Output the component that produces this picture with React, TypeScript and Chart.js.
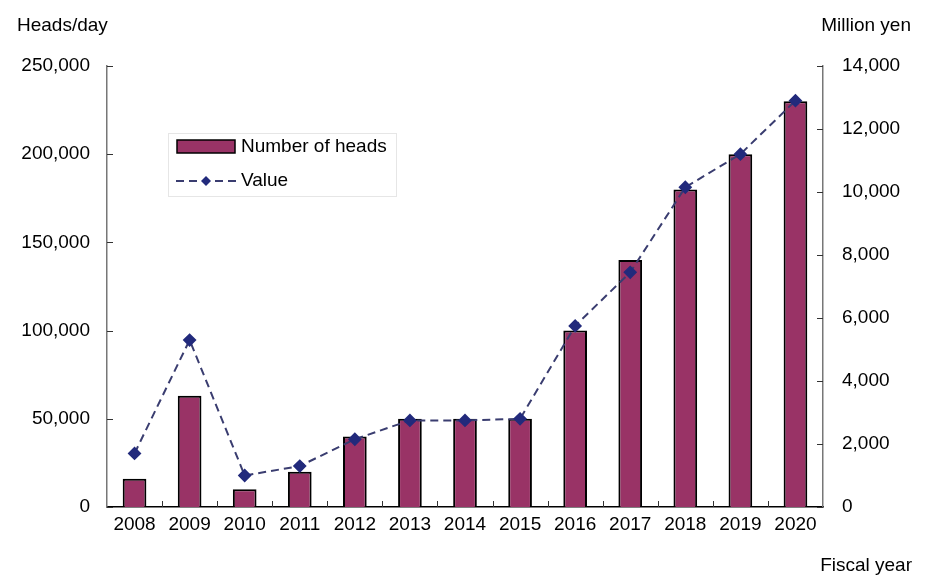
import React, { useEffect, useRef } from "react";
import { Chart, registerables } from "chart.js";

Chart.register(...registerables);

const years = ["2008", "2009", "2010", "2011", "2012", "2013", "2014", "2015", "2016", "2017", "2018", "2019", "2020"];
const heads = [16000, 63000, 10000, 20000, 40000, 50000, 50000, 50000, 100000, 140000, 180000, 200000, 230000];
const valueMillionYen = [1700, 5300, 1000, 1300, 2150, 2750, 2750, 2800, 5750, 7450, 10150, 11200, 12900];
const leftTicks = [0, 50000, 100000, 150000, 200000, 250000];
const rightTicks = [0, 2000, 4000, 6000, 8000, 10000, 12000, 14000];

const FONT = "'Liberation Sans', Arial, sans-serif";
const FS = 19;
const BAR_COLOR = "#993366";
const LINE_COLOR = "#3a3d70";
const MARKER_COLOR = "#222a7c";

const overlay = {
  id: "overlay",
  afterDraw(chart: any) {
    const ctx = chart.ctx;
    const area = chart.chartArea;
    const x = chart.scales.x;
    const y = chart.scales.y;
    const y1 = chart.scales.y1;
    ctx.save();
    // inward tick marks
    ctx.lineWidth = 1;
    ctx.strokeStyle = "#333";
    ctx.beginPath();
    for (const v of leftTicks) {
      const py = Math.round(y.getPixelForValue(v)) + 0.5;
      ctx.moveTo(area.left, py);
      ctx.lineTo(area.left + 6, py);
    }
    for (const v of rightTicks) {
      const py = Math.round(y1.getPixelForValue(v)) + 0.5;
      ctx.moveTo(area.right, py);
      ctx.lineTo(area.right - 6, py);
    }
    const n = years.length;
    for (let i = 1; i < n; i++) {
      const px = Math.round((x.getPixelForValue(i - 1) + x.getPixelForValue(i)) / 2) + 0.5;
      ctx.moveTo(px, area.bottom);
      ctx.lineTo(px, area.bottom - 6);
    }
    ctx.stroke();

    // axis titles
    ctx.fillStyle = "#000";
    ctx.font = `${FS}px ${FONT}`;
    ctx.textBaseline = "middle";
    ctx.textAlign = "left";
    ctx.fillText("Heads/day", 17, 26);
    ctx.textAlign = "right";
    ctx.fillText("Million yen", 911, 26);
    ctx.fillText("Fiscal year", 912, 566);

    // legend
    const lx = 168, ly = 133, lw = 228, lh = 63;
    ctx.fillStyle = "#fff";
    ctx.fillRect(lx, ly, lw, lh);
    ctx.strokeStyle = "#e6e6e6";
    ctx.lineWidth = 1;
    ctx.strokeRect(lx + 0.5, ly + 0.5, lw, lh);
    // bar swatch
    ctx.fillStyle = BAR_COLOR;
    ctx.fillRect(177, 140, 58, 13);
    ctx.strokeStyle = "#000";
    ctx.lineWidth = 1.5;
    ctx.strokeRect(177, 140, 58, 13);
    // line swatch
    ctx.strokeStyle = LINE_COLOR;
    ctx.lineWidth = 2;
    ctx.setLineDash([8, 5]);
    ctx.beginPath();
    ctx.moveTo(176, 181);
    ctx.lineTo(236, 181);
    ctx.stroke();
    ctx.setLineDash([]);
    ctx.fillStyle = MARKER_COLOR;
    ctx.beginPath();
    ctx.moveTo(206, 176);
    ctx.lineTo(211, 181);
    ctx.lineTo(206, 186);
    ctx.lineTo(201, 181);
    ctx.closePath();
    ctx.fill();
    ctx.fillStyle = "#000";
    ctx.font = `${FS}px ${FONT}`;
    ctx.textAlign = "left";
    ctx.fillText("Number of heads", 241, 147);
    ctx.fillText("Value", 241, 181);
    ctx.restore();
  },
};

export default function App() {
  const ref = useRef<HTMLCanvasElement>(null);
  useEffect(() => {
    if (!ref.current) return;
    const chart = new Chart(ref.current, {
      type: "bar",
      data: {
        labels: years,
        datasets: [
          {
            type: "line",
            label: "Value",
            data: valueMillionYen,
            yAxisID: "y1",
            borderColor: LINE_COLOR,
            borderWidth: 2,
            borderDash: [8, 5],
            pointStyle: "rectRot",
            pointRadius: 5.5,
            pointBackgroundColor: MARKER_COLOR,
            pointBorderColor: MARKER_COLOR,
            fill: false,
            tension: 0,
            order: 1,
          } as any,
          {
            type: "bar",
            label: "Number of heads",
            data: heads,
            yAxisID: "y",
            backgroundColor: BAR_COLOR,
            borderColor: "#000",
            borderWidth: 2,
            barPercentage: 0.43,
            categoryPercentage: 1,
            order: 2,
          },
        ],
      },
      options: {
        animation: false,
        responsive: false,
        maintainAspectRatio: false,
        layout: { padding: { top: 66, left: 0, right: 0, bottom: 0 } },
        plugins: { legend: { display: false }, tooltip: { enabled: false } },
        scales: {
          x: {
            grid: { display: false, drawTicks: false },
            border: { display: true, color: "#000", width: 1.5 },
            ticks: { color: "#000", font: { family: FONT, size: FS }, padding: 6, maxRotation: 0, autoSkip: false },
            afterFit: (s: any) => { s.height = 77; },
          },
          y: {
            position: "left",
            min: 0,
            max: 250000,
            grid: { display: false, drawTicks: false },
            border: { display: true, color: "#777", width: 1.5 },
            ticks: {
              stepSize: 50000,
              color: "#000",
              font: { family: FONT, size: FS },
              padding: 17,
              callback: (v: any) => Number(v).toLocaleString("en-US"),
            },
            afterFit: (s: any) => { s.width = 107; },
          },
          y1: {
            position: "right",
            min: 0,
            max: 14000,
            grid: { display: false, drawTicks: false },
            border: { display: true, color: "#777", width: 1.5 },
            ticks: {
              stepSize: 2000,
              color: "#000",
              font: { family: FONT, size: FS },
              padding: 19,
              callback: (v: any) => Number(v).toLocaleString("en-US"),
            },
            afterFit: (s: any) => { s.width = 103; },
          },
        },
      },
      plugins: [overlay],
    });
    return () => chart.destroy();
  }, []);
  return (
    <div style={{ position: "fixed", left: 0, top: 0, width: 926, height: 584, background: "#fff" }}>
      <canvas ref={ref} width={926} height={584} style={{ width: 926, height: 584 }} />
    </div>
  );
}
